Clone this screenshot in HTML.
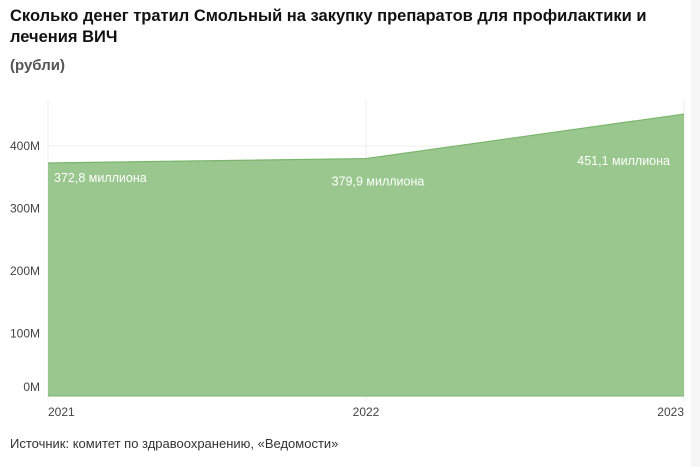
<!DOCTYPE html>
<html><head><meta charset="utf-8"><style>
body{margin:0;width:700px;height:467px;background:#fff;font-family:"Liberation Sans",sans-serif;overflow:hidden;position:relative}
h1{position:absolute;left:10px;top:6px;margin:0;font-size:16.5px;line-height:21px;font-weight:bold;color:#111;width:680px}
.sub{position:absolute;left:10px;top:57px;font-size:15px;font-weight:bold;color:#555}
.src{position:absolute;left:10px;top:436px;font-size:13px;color:#333}
.strip{position:absolute;left:691px;top:0;width:9px;height:467px;background:#f6f6f6}
</style></head><body>
<h1>Сколько денег тратил Смольный на закупку препаратов для профилактики и лечения ВИЧ</h1>
<div class="sub">(рубли)</div>
<div class="strip"></div>
<svg id="c" width="700" height="467" style="position:absolute;left:0;top:0"></svg>
<div class="src">Источник: комитет по здравоохранению, «Ведомости»</div>
<script>
const years=["2021","2022","2023"];
const values=[372.8,379.9,451.1];
const labels=["372,8 миллиона","379,9 миллиона","451,1 миллиона"];
const yTicks=[0,100,200,300,400];
const yTickLabels=["0M","100M","200M","300M","400M"];
const NS="http://www.w3.org/2000/svg",svg=document.getElementById('c');
const x0=48,x1=684,y0=396,pxPer=0.625;
const xs=i=>x0+(x1-x0)*i/(years.length-1);
const ys=v=>y0-v*pxPer;
function mk(t,a,p){const e=document.createElementNS(NS,t);for(const k in a)e.setAttribute(k,a[k]);(p||svg).appendChild(e);return e;}
years.forEach((y,i)=>{const l=mk('line',{x1:xs(i),x2:xs(i),y1:100,y2:401,stroke:'#eee'});

});
yTicks.forEach((v,i)=>{const l=mk('line',{x1:x0,x2:x1,y1:ys(v),y2:ys(v),stroke:'#eee'});


const t=mk('text',{x:40,y:ys(v)+4-(v===0?9:0),'text-anchor':'end','font-size':12,fill:'#444'});t.textContent=yTickLabels[i];

});
let d='M'+xs(0)+','+y0;values.forEach((v,i)=>d+=' L'+xs(i)+','+ys(v));d+=' L'+xs(values.length-1)+','+y0+' Z';
const a=mk('path',{d:d,fill:'#8bbf7e','fill-opacity':0.88,stroke:'none'});


let ld='';values.forEach((v,i)=>ld+=(i?' L':'M')+xs(i)+','+ys(v));
const ln=mk('path',{d:ld,fill:'none',stroke:'#7ab56c','stroke-width':1.2});


const bl=mk('line',{x1:x0,x2:x1,y1:y0,y2:y0,stroke:'#7ab56c'});


const anchors=['start','middle','end'],dx=[6,12,-14],dy=[19,27,51];
values.forEach((v,i)=>{const t=mk('text',{x:xs(i)+dx[i],y:ys(v)+dy[i],'text-anchor':anchors[i],'font-size':12.5,fill:'#fff'});t.textContent=labels[i];

});
years.forEach((y,i)=>{const t=mk('text',{x:xs(i),y:416,'text-anchor':i==0?'start':i==2?'end':'middle','font-size':12,fill:'#444'});t.textContent=y;

});
</script>
</body></html>
